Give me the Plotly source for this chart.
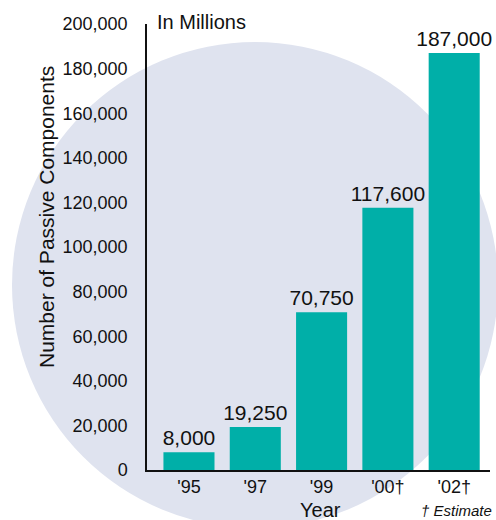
import plotly.graph_objects as go

# Passive component shipments, in millions
years = ["'95", "'97", "'99", "'00†", "'02†"]
units = [8000, 19250, 70750, 117600, 187000]
unit_labels = ["8,000", "19,250", "70,750", "117,600", "187,000"]
y_ticks = [0, 20000, 40000, 60000, 80000, 100000, 120000, 140000, 160000, 180000, 200000]

W, H = 496, 520
ML, MR, MT, MB = 147, 6, 24, 50
PW, PH = W - ML - MR, H - MT - MB


def px_x(p):
    return (p - ML) / PW


def px_y(p):
    return (H - MB - p) / PH


FONT = "Liberation Sans, Arial, sans-serif"
TEAL = "#00AFA8"

fig = go.Figure(
    go.Bar(
        x=years,
        y=units,
        text=unit_labels,
        textposition="outside",
        constraintext="none",
        textfont=dict(size=21, color="#111111", family=FONT),
        marker=dict(color=TEAL, line=dict(width=0)),
        width=0.77,
        cliponaxis=False,
        hoverinfo="skip",
    )
)

# Large pale background disc
fig.add_shape(
    type="circle",
    xref="paper", yref="paper",
    x0=px_x(12), x1=px_x(498),
    y0=px_y(528), y1=px_y(42),
    fillcolor="#DFE3EF",
    line=dict(width=0),
    layer="below",
)

fig.update_layout(
    width=W, height=H,
    margin=dict(l=ML, r=MR, t=MT, b=MB),
    paper_bgcolor="white",
    plot_bgcolor="rgba(0,0,0,0)",
    showlegend=False,
    font=dict(family=FONT, color="#111111"),
    bargap=0.23,
)

fig.update_xaxes(
    type="category",
    range=[-0.633, 4.54],
    showline=True, linecolor="#111111", linewidth=1.5,
    showgrid=False, zeroline=False,
    ticks="", tickfont=dict(size=18, family=FONT, color="#111111"),
)
fig.update_yaxes(
    range=[0, 200000],
    tickvals=y_ticks,
    tickformat=",",
    showline=True, linecolor="#111111", linewidth=1.5,
    showgrid=False, zeroline=False,
    ticks="outside", ticklen=14, tickcolor="rgba(0,0,0,0)",
    tickfont=dict(size=18, family=FONT, color="#111111"),
)

fig.add_annotation(
    text="In Millions", xref="paper", yref="paper",
    x=px_x(155), y=px_y(22), xanchor="left", yanchor="middle",
    showarrow=False, font=dict(size=20, family=FONT, color="#111111"),
)
fig.add_annotation(
    text="Number of Passive Components", xref="paper", yref="paper",
    x=px_x(46), y=px_y(217), xanchor="center", yanchor="middle",
    textangle=-90,
    showarrow=False, font=dict(size=21, family=FONT, color="#111111"),
)
fig.add_annotation(
    text="Year", xref="paper", yref="paper",
    x=px_x(320), y=px_y(510), xanchor="center", yanchor="middle",
    showarrow=False, font=dict(size=20, family=FONT, color="#111111"),
)
fig.add_annotation(
    text="<i>† Estimate</i>", xref="paper", yref="paper",
    x=px_x(456), y=px_y(510), xanchor="center", yanchor="middle",
    showarrow=False, font=dict(size=15, family=FONT, color="#111111"),
)

fig.write_html("out.html")
